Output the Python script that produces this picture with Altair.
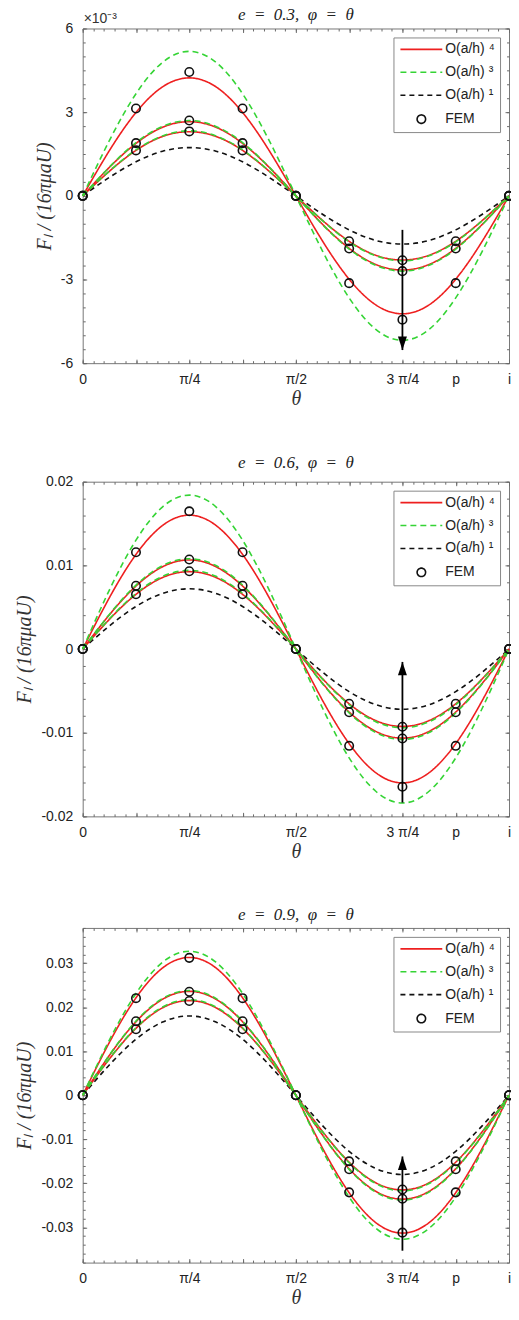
import math
import altair as alt
import pandas as pd

PI = math.pi

# ---------------- data ----------------
THETA_FRAC = [0, 0.0625, 0.125, 0.1875, 0.25, 0.3125, 0.375, 0.4375, 0.5,
              0.5625, 0.625, 0.6875, 0.75, 0.8125, 0.875, 0.9375, 1.0]
FEM_FRAC = [0, 0.125, 0.25, 0.375, 0.5, 0.625, 0.75, 0.875, 1.0]

SERIES = ["O(a/h) \u2074", "O(a/h) \u00b3", "O(a/h) \u00b9", "FEM"]

# all values in units of 1e-3
P1_BLK = [0, 0.66, 1.22, 1.60, 1.73, 1.60, 1.22, 0.66, 0, -0.66, -1.22, -1.60, -1.73, -1.60, -1.22, -0.66, 0]
P1_R1 = [0, 1.62, 2.99, 3.91, 4.23, 3.91, 2.99, 1.62, 0, -1.62, -2.99, -3.91, -4.23, -3.91, -2.99, -1.62, 0]
P1_R2 = [0, 1.02, 1.88, 2.46, 2.66, 2.46, 1.88, 1.02, 0, -1.02, -1.88, -2.46, -2.66, -2.46, -1.88, -1.02, 0]
P1_R3 = [0, 0.88, 1.63, 2.13, 2.30, 2.13, 1.63, 0.88, 0, -0.88, -1.63, -2.13, -2.30, -2.13, -1.63, -0.88, 0]
P1_G1 = [0, 1.98, 3.66, 4.79, 5.18, 4.79, 3.66, 1.98, 0, -1.98, -3.66, -4.79, -5.18, -4.79, -3.66, -1.98, 0]
P1_G2 = [0, 1.03, 1.91, 2.49, 2.70, 2.49, 1.91, 1.03, 0, -1.03, -1.91, -2.49, -2.70, -2.49, -1.91, -1.03, 0]
P1_G3 = [0, 0.89, 1.65, 2.15, 2.33, 2.15, 1.65, 0.89, 0, -0.89, -1.65, -2.15, -2.33, -2.15, -1.65, -0.89, 0]
P1_F1 = [0, 3.13, 4.44, 3.13, 0, -3.13, -4.44, -3.13, 0]
P1_F2 = [0, 1.89, 2.70, 1.89, 0, -1.89, -2.70, -1.89, 0]
P1_F3 = [0, 1.63, 2.31, 1.63, 0, -1.63, -2.31, -1.63, 0]

P2_BLK = [0, 2.76, 5.09, 6.65, 7.2, 6.65, 5.09, 2.76, 0, -2.76, -5.09, -6.65, -7.2, -6.65, -5.09, -2.76, 0]
P2_R1 = [0, 6.13, 11.31, 14.78, 16.0, 14.78, 11.31, 6.13, 0, -6.13, -11.31, -14.78, -16.0, -14.78, -11.31, -6.13, 0]
P2_R2 = [0, 4.08, 7.53, 9.84, 10.65, 9.84, 7.53, 4.08, 0, -4.08, -7.53, -9.84, -10.65, -9.84, -7.53, -4.08, 0]
P2_R3 = [0, 3.54, 6.54, 8.55, 9.25, 8.55, 6.54, 3.54, 0, -3.54, -6.54, -8.55, -9.25, -8.55, -6.54, -3.54, 0]
P2_G1 = [0, 7.05, 13.01, 17.0, 18.4, 17.0, 13.01, 7.05, 0, -7.05, -13.01, -17.0, -18.4, -17.0, -13.01, -7.05, 0]
P2_G2 = [0, 4.14, 7.64, 9.98, 10.8, 9.98, 7.64, 4.14, 0, -4.14, -7.64, -9.98, -10.8, -9.98, -7.64, -4.14, 0]
P2_G3 = [0, 3.60, 6.65, 8.69, 9.4, 8.69, 6.65, 3.60, 0, -3.60, -6.65, -8.69, -9.4, -8.69, -6.65, -3.60, 0]
P2_F1 = [0, 11.57, 16.46, 11.57, 0, -11.57, -16.46, -11.57, 0]
P2_F2 = [0, 7.56, 10.7, 7.56, 0, -7.56, -10.7, -7.56, 0]
P2_F3 = [0, 6.54, 9.29, 6.54, 0, -6.54, -9.29, -6.54, 0]

P3_BLK = [0, 6.89, 12.73, 16.63, 18.0, 16.63, 12.73, 6.89, 0, -6.89, -12.73, -16.63, -18.0, -16.63, -12.73, -6.89, 0]
P3_R1 = [0, 11.99, 22.13, 28.92, 31.3, 28.92, 22.13, 11.99, 0, -11.99, -22.13, -28.92, -31.3, -28.92, -22.13, -11.99, 0]
P3_R2 = [0, 9.04, 16.69, 21.81, 23.6, 21.81, 16.69, 9.04, 0, -9.04, -16.69, -21.81, -23.6, -21.81, -16.69, -9.04, 0]
P3_R3 = [0, 8.23, 15.2, 19.87, 21.5, 19.87, 15.2, 8.23, 0, -8.23, -15.2, -19.87, -21.5, -19.87, -15.2, -8.23, 0]
P3_G1 = [0, 12.52, 23.12, 30.21, 32.7, 30.21, 23.12, 12.52, 0, -12.52, -23.12, -30.21, -32.7, -30.21, -23.12, -12.52, 0]
P3_G2 = [0, 9.12, 16.83, 21.99, 23.8, 21.99, 16.83, 9.12, 0, -9.12, -16.83, -21.99, -23.8, -21.99, -16.83, -9.12, 0]
P3_G3 = [0, 8.31, 15.34, 20.05, 21.7, 20.05, 15.34, 8.31, 0, -8.31, -15.34, -20.05, -21.7, -20.05, -15.34, -8.31, 0]
P3_F1 = [0, 22.05, 31.2, 22.05, 0, -22.05, -31.2, -22.05, 0]
P3_F2 = [0, 16.8, 23.5, 16.8, 0, -16.8, -23.5, -16.8, 0]
P3_F3 = [0, 15.0, 21.4, 15.0, 0, -15.0, -21.4, -15.0, 0]

SP = "\u2002"
TITLES = [f"e{SP}={SP}0.3,{SP}\u03c6{SP}={SP}\u03b8",
          f"e{SP}={SP}0.6,{SP}\u03c6{SP}={SP}\u03b8",
          f"e{SP}={SP}0.9,{SP}\u03c6{SP}={SP}\u03b8"]
Y_TITLE = "F\u2097 / (16\u03c0\u03bcaU)"
Y_DOMAINS = [[-6, 6], [-20, 20], [-38, 38]]
Y_MAJOR = [[-6, -3, 0, 3, 6], [-20, -10, 0, 10, 20], [-30, -20, -10, 0, 10, 20, 30]]
Y_MINOR_STEP = [0.5, 2, 2]
ARROW_TAIL = [-1.22, -18.35, -35.3]
ARROW_TIP = [-5.53, -1.54, -13.9]

X_LABEL_FRAC = [0, 0.25, 0.5, 0.75, 0.875, 1.0]
X_LABELS = ["0", "\u03c0/4", "\u03c0/2", "3 \u03c0/4", "p", "i"]

# ---------------- styling ----------------
COLORS = ["#ee1f1f", "#35d435", "#111111", "#111111"]
DASHES = [[1, 0], [6, 4], [5, 4], [1, 0]]
LINE_PATH = "M-4.2,0L4.2,0"
CIRC_PATH = "M-0.85,0A0.85,0.85 0 1,0 0.85,0A0.85,0.85 0 1,0 -0.85,0"
SHAPES = [LINE_PATH, LINE_PATH, LINE_PATH, CIRC_PATH]
DOWN_HEAD = "M-1,-3L1,-3L0,0Z"
UP_HEAD = "M-1,3L1,3L0,0Z"

W, H = 428, 336
TITLE_OFFSETS = [-12, 3, 3]

X_MAJOR = [k * PI / 8 for k in range(9)]
X_MINOR = [k * PI / 40 for k in range(41)]

x_label_expr = "".join(
    f"abs(datum.value - {f * PI:.6f}) < 0.001 ? '{lab}' : "
    for f, lab in zip(X_LABEL_FRAC, X_LABELS)
) + "''"

AX_GRAY = "#6a6a6a"


def panel(i, blk, reds, greens, fems):
    curves = [("k", SERIES[2], blk)] + [(f"r{j}", SERIES[0], c) for j, c in enumerate(reds)] + \
             [(f"g{j}", SERIES[1], c) for j, c in enumerate(greens)]
    rows = []
    for cid, s, vals in curves:
        for f, v in zip(THETA_FRAC, vals):
            rows.append({"theta": f * PI, "v": v, "series": s, "curve": cid})
    df_lines = pd.DataFrame(rows)
    frows = []
    for j, vals in enumerate(fems):
        for f, v in zip(FEM_FRAC, vals):
            frows.append({"theta": f * PI, "v": v, "series": SERIES[3], "set": j})
    df_fem = pd.DataFrame(frows)
    df_arrow = pd.DataFrame({"theta": [0.75 * PI], "y1": [ARROW_TAIL[i]], "y2": [ARROW_TIP[i]]})

    xs = alt.Scale(domain=[0, PI], nice=False, zero=False)
    ys = alt.Scale(domain=Y_DOMAINS[i], nice=False, zero=False)
    lo, hi = Y_DOMAINS[i]
    st = Y_MINOR_STEP[i]
    n = int(round((hi - lo) / st))
    y_minor = [lo + k * st for k in range(n + 1)]
    if i == 0:
        y_label_expr = "datum.value == 0 ? '0' : (datum.value < 0 ? '-' : '') + format(abs(datum.value), 'd')"
    else:
        y_label_expr = "datum.value == 0 ? '0' : (datum.value < 0 ? '-' : '') + format(abs(datum.value) / 1000, '.2f')"

    color = alt.Color("series:N", scale=alt.Scale(domain=SERIES, range=COLORS), legend=alt.Legend(title=None))

    main_x = alt.Axis(orient="bottom", values=X_MAJOR, labelExpr=x_label_expr, tickSize=4, offset=-4,
                      domain=False, grid=False, labelPadding=9, title="\u03b8", titlePadding=2,
                      labelFlush=False)
    main_y = alt.Axis(orient="left", values=Y_MAJOR[i], labelExpr=y_label_expr, tickSize=4, offset=-4,
                      domain=False, grid=False, labelPadding=10,
                      title=Y_TITLE, titlePadding=6)

    lines = alt.Chart(df_lines).mark_line(interpolate="natural", strokeWidth=1.6).encode(
        x=alt.X("theta:Q", scale=xs, axis=main_x),
        y=alt.Y("v:Q", scale=ys, axis=main_y),
        color=color,
        strokeDash=alt.StrokeDash("series:N", scale=alt.Scale(domain=SERIES, range=DASHES),
                                  legend=alt.Legend(title=None)),
        detail="curve:N",
    )

    def tick_axis(orient, vals, size, off):
        return alt.Axis(orient=orient, values=vals, tickSize=size, offset=off, labels=False,
                        domain=False, grid=False, title=None, minExtent=0, maxExtent=0)

    pts = alt.Chart(df_fem).mark_point(filled=False, size=100, strokeWidth=1.6, opacity=1).encode(
        x=alt.X("theta:Q", scale=xs, axis=tick_axis("bottom", X_MINOR, 2.5, -2.5)),
        y=alt.Y("v:Q", scale=ys, axis=tick_axis("left", y_minor, 2.5, -2.5)),
        color=color,
        shape=alt.Shape("series:N", scale=alt.Scale(domain=SERIES, range=SHAPES),
                        legend=alt.Legend(title=None)),
    )

    arrow = alt.Chart(df_arrow).mark_rule(color="black", strokeWidth=1.8).encode(
        x=alt.X("theta:Q", scale=xs, axis=tick_axis("bottom", X_MAJOR, 4, -H)),
        y=alt.Y("y1:Q", scale=ys, axis=tick_axis("left", Y_MAJOR[i], 4, -W)),
        y2="y2:Q",
    )
    head = alt.Chart(df_arrow).mark_point(shape=DOWN_HEAD if i == 0 else UP_HEAD, filled=True,
                                          color="black", size=81, opacity=1, strokeWidth=0).encode(
        x=alt.X("theta:Q", scale=xs, axis=tick_axis("bottom", X_MINOR, 2.5, -H)),
        y=alt.Y("y2:Q", scale=ys, axis=tick_axis("left", y_minor, 2.5, -W)),
    )
    layers = [lines, pts, arrow, head]
    if i == 0:
        df_exp = pd.DataFrame({"theta": [0.0], "v": [Y_DOMAINS[0][1]], "t": ["\u00d710\u207b\u00b3"]})
        exp_txt = alt.Chart(df_exp).mark_text(align="left", baseline="bottom", dx=1, dy=-3,
                                               font="Liberation Sans", fontSize=14,
                                               color="#333").encode(
            x=alt.X("theta:Q", scale=xs, axis=None),
            y=alt.Y("v:Q", scale=ys, axis=None),
            text="t:N",
        )
        layers.append(exp_txt)

    return alt.layer(*layers).resolve_axis(x="independent", y="independent").properties(
        width=W, height=H,
        title=alt.TitleParams(TITLES[i], font="Liberation Serif", fontStyle="italic", fontSize=17,
                              fontWeight="normal", color="#222", offset=TITLE_OFFSETS[i]),
    )


p1 = panel(0, P1_BLK, [P1_R1, P1_R2, P1_R3], [P1_G1, P1_G2, P1_G3], [P1_F1, P1_F2, P1_F3])
p2 = panel(1, P2_BLK, [P2_R1, P2_R2, P2_R3], [P2_G1, P2_G2, P2_G3], [P2_F1, P2_F2, P2_F3])
p3 = panel(2, P3_BLK, [P3_R1, P3_R2, P3_R3], [P3_G1, P3_G2, P3_G3], [P3_F1, P3_F2, P3_F3])

chart = alt.vconcat(p1, p2, p3, spacing=44).resolve_scale(
    x="independent", y="independent", color="independent", strokeDash="independent", shape="independent"
).resolve_legend(
    color="independent", strokeDash="independent", shape="independent"
).properties(
    padding={"left": 6, "top": -6, "right": -6, "bottom": -4}, background="white"
).configure_view(
    stroke="#777777", strokeWidth=1, fill="white"
).configure_axis(
    labelFont="Liberation Sans", labelFontSize=14, labelColor="#222222",
    titleFont="Liberation Serif", titleFontStyle="italic", titleFontSize=20, titleFontWeight="normal",
    titleColor="#333333", tickColor=AX_GRAY, tickWidth=1
).configure_legend(
    orient="top-right", offset=9, padding=5, strokeColor="#888888", fillColor="white",
    labelFont="Liberation Sans", labelFontSize=14, labelColor="#222222",
    symbolSize=100, symbolStrokeWidth=1.6, symbolOffset=16, labelOffset=17, rowPadding=9,
    cornerRadius=0
)

chart.save("out.html", embed_options={"renderer": "svg", "actions": False})
